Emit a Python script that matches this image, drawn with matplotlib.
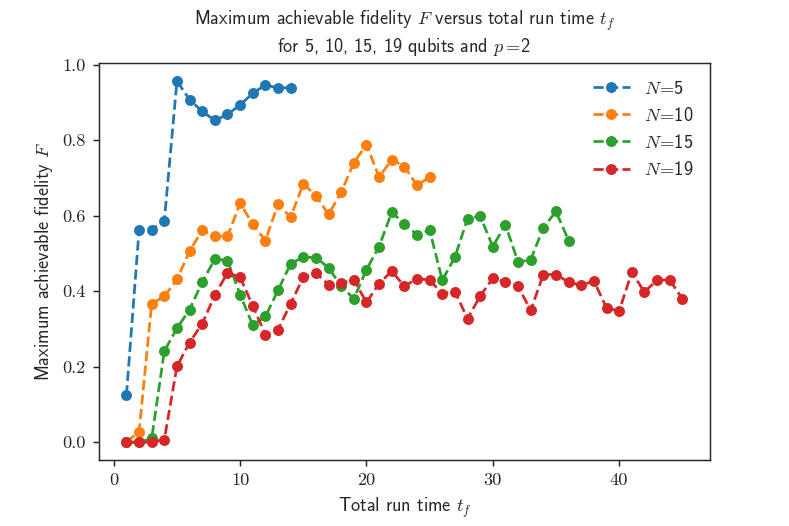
import matplotlib
matplotlib.use("Agg")
import matplotlib.pyplot as plt
import seaborn as sns

# fidelity values, t_f = 1, 2, 3, ...
f_n5 = [0.124, 0.561, 0.563, 0.587, 0.956, 0.907, 0.876, 0.852, 0.868, 0.893,
        0.924, 0.946, 0.938, 0.939]
f_n10 = [0.001, 0.027, 0.367, 0.386, 0.431, 0.506, 0.561, 0.546, 0.545, 0.633,
         0.577, 0.534, 0.630, 0.596, 0.684, 0.653, 0.603, 0.662, 0.740, 0.788,
         0.702, 0.748, 0.730, 0.680, 0.702]
f_n15 = [0.0, 0.0, 0.010, 0.241, 0.302, 0.351, 0.424, 0.485, 0.481, 0.391,
         0.310, 0.333, 0.402, 0.473, 0.490, 0.489, 0.462, 0.413, 0.380, 0.457,
         0.518, 0.609, 0.578, 0.549, 0.562, 0.429, 0.490, 0.592, 0.599, 0.518,
         0.576, 0.477, 0.483, 0.568, 0.611, 0.534]
f_n19 = [0.0, 0.0, 0.0, 0.007, 0.201, 0.264, 0.314, 0.389, 0.449, 0.437,
         0.361, 0.285, 0.298, 0.367, 0.437, 0.448, 0.417, 0.421, 0.430, 0.370,
         0.420, 0.453, 0.413, 0.433, 0.430, 0.393, 0.399, 0.327, 0.387, 0.434,
         0.424, 0.413, 0.349, 0.444, 0.444, 0.424, 0.415, 0.427, 0.356, 0.347,
         0.450, 0.398, 0.429, 0.430, 0.380]

series = [f_n5, f_n10, f_n15, f_n19]
labels = [r'$N\!=\!$5', r'$N\!=\!$10', r'$N\!=\!$15', r'$N\!=\!$19']

sns.set_style("ticks")
plt.rcParams['font.family'] = ['cmss10', 'DejaVu Sans']
plt.rcParams['mathtext.fontset'] = 'cm'
plt.rcParams['axes.unicode_minus'] = False

fig, ax = plt.subplots(figsize=(6, 4), dpi=131.5)
fig.subplots_adjust(left=0.125, right=0.9, top=0.88, bottom=0.125)

for vals, lab in zip(series, labels):
    t = list(range(1, len(vals) + 1))
    ax.plot(t, vals, '--o', markersize=5, label=lab)

ax.set_xticks([0, 10, 20, 30, 40])
ax.set_yticks([0.0, 0.2, 0.4, 0.6, 0.8, 1.0])
ax.tick_params(labelfontfamily='cmr10')
ax.set_xlabel(r'Total run time $t_f$')
ax.set_ylabel(r'Maximum achievable fidelity $F$')
ax.set_title('Maximum achievable fidelity $F$ versus total run time $t_f$\n'
             r'for 5, 10, 15, 19 qubits and $p=\!$2', fontsize=10)
ax.legend(frameon=False, loc='upper right')

fig.savefig('out.png', dpi=131.5)
